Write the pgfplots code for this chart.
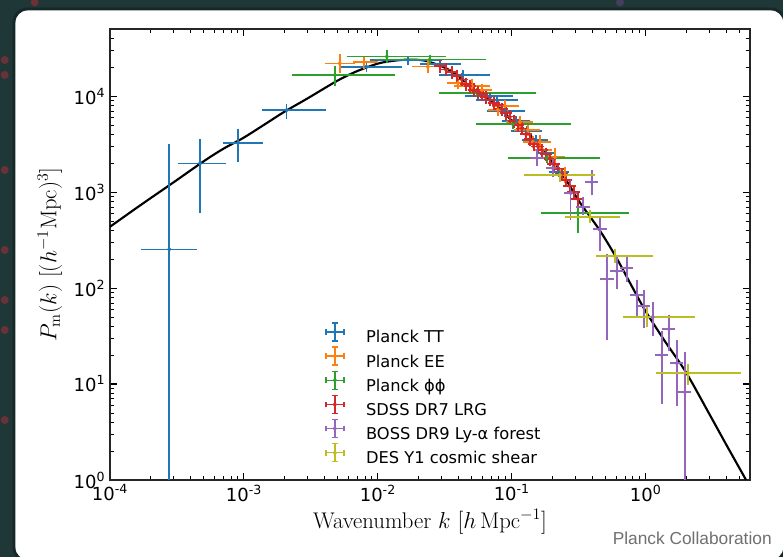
\documentclass[border=0pt]{standalone}
\usepackage{pgfplots}
\pgfplotsset{compat=1.18}
\usepackage{pgfplotstable}
\usepackage{fontspec}
\newfontfamily\djv{DejaVu Sans}
\newfontfamily\lib{Liberation Sans}
\definecolor{tabblue}{RGB}{31,119,180}
\definecolor{taborange}{RGB}{255,127,14}
\definecolor{tabgreen}{RGB}{44,160,44}
\definecolor{tabred}{RGB}{214,39,40}
\definecolor{tabpurple}{RGB}{148,103,189}
\definecolor{tabolive}{RGB}{188,189,34}
\definecolor{bgdark}{RGB}{31,55,55}
\definecolor{carddark}{RGB}{22,40,40}
\definecolor{credit}{RGB}{112,112,112}
\definecolor{blob}{RGB}{170,45,60}

\newcommand{\tl}[1]{10\textsuperscript{#1}}

% theory curve
\pgfplotstableread{
k P
1e-4 435
1.5e-4 650
2e-4 860
3e-4 1270
5e-4 2090
7e-4 2820
1e-3 3700
1.5e-3 5300
2e-3 6850
3e-3 9500
5e-3 14500
7e-3 18200
1e-2 21800
1.3e-2 23300
1.7e-2 24000
2.2e-2 23500
2.8e-2 21200
3.5e-2 18300
4.5e-2 13800
5.6e-2 10900
7e-2 8800
8.5e-2 7100
0.1 5550
0.13 4250
0.18 2480
0.25 1380
0.32 790
0.45 405
0.6 210
0.8 100
1.0 57
1.4 27.5
2.0 13.2
3.0 4.8
4.0 2.32
5.5 1.05
6.0 0.83
}\curvedata

\pgfplotstableread{
k P kl kh Pl Ph
2.77e-4 253 1.8e-4 4.19e-4 0.1 2940
4.7e-4 1990 3.4e-4 6.97e-4 660 3295
9.06e-4 3265 7.35e-4 1.31e-3 2207 4220
2.08e-3 7150 1.44e-3 3.86e-3 6190 7620
8.2e-3 20200 5.48e-3 0.01435 19500 21000
0.0168 23700 0.0092 0.0285 23000 24400
0.029 21540 0.0217 0.0395 21000 22100
0.043 16550 0.0305 0.065 16000 17100
0.0686 10000 0.047 0.0966 9700 10300
0.0773 9090 0.0577 0.105 8800 9400
0.0887 6980 0.0686 0.119 6780 7180
0.107 5495 0.0887 0.129 5330 5660
0.129 4318 0.105 0.159 4180 4460
0.151 3480 0.127 0.176 3370 3590
0.179 2548 0.162 0.202 2460 2640
0.224 1616 0.199 0.253 1560 1680
}\TTdata

\pgfplotstableread{
k P kl kh Pl Ph
5.2e-3 21920 4.24e-3 6.4e-3 18660 25180
7.87e-3 22600 6.86e-3 9.5e-3 20540 24280
0.0236 20280 0.0192 0.029 18660 22080
0.0395 13650 0.035 0.044 12800 14500
0.0502 12710 0.0395 0.065 11550 13990
0.0597 11550 0.053 0.067 10900 12200
0.0788 7145 0.070 0.088 6700 7600
0.0887 7870 0.0747 0.107 7320 8450
0.115 5360 0.0966 0.136 4990 5760
0.1316 4425 0.109 0.154 4120 4760
0.1436 3318 0.128 0.161 3100 3540
0.162 3318 0.141 0.186 3015 3650
0.170 2738 0.152 0.190 2560 2920
0.2095 2316 0.186 0.236 1958 2673
0.249 1503 0.220 0.281 1334 1695
}\EEdata

\pgfplotstableread{
k P kl kh Pl Ph
4.77e-3 16550 2.44e-3 0.0127 13650 19100
0.01167 25780 6.18e-3 0.0306 23990 27730
0.0244 23990 0.01035 0.0608 23000 25000
0.0548 10820 0.0301 0.1436 10500 11150
0.1016 5110 0.0568 0.262 4950 5280
0.1824 2260 0.0984 0.4305 2180 2340
0.311 609 0.1734 0.7096 402 826
}\PPdata

\pgfplotstableread{
k P
0.02903 20540
0.03218 18900
0.03566 17780
0.03887 16160
0.04235 14900
0.04536 13340
0.04860 12710
0.05205 11600
0.05576 11010
0.05972 10490
0.06397 9763
0.06852 9200
0.07339 8456
0.07861 8058
0.08420 7320
0.09019 6651
0.09663 6100
0.1035 5490
0.1109 4988
0.1188 4600
0.1272 4019
0.1363 3565
0.1460 3162
0.1563 2990
0.1675 2738
0.1794 2488
0.1922 2207
0.2058 1957
0.2205 1736
0.2361 1540
0.2529 1334
0.2709 1155
0.2902 1000
0.3108 846
}\SDSSdata

\pgfplotstableread{
k P Pl Ph
0.154 2260 2005 2610
0.202 1778 1540 2053
0.275 977 549 1271
0.339 698 619 826
0.395 1271 1000 1577
0.454 412 261 511
0.512 124 30.9 210
0.608 150 105 200
0.721 162 124 196
0.857 84.5 53.6 113
0.966 64.9 41.2 88.7
1.127 49.9 34.0 66.5
1.316 20.0 6.65 33.2
1.485 37.4 23.7 48.7
1.703 16.5 6.34 26.7
1.954 8.25 0.5 20.0
}\BOSSdata

\pgfplotstableread{
k P kl kh Pl Ph
0.228 1503 0.1315 0.395 1366 1616
0.382 553 0.266 0.608 511 604
0.587 215 0.454 1.071 196 237
1.017 50.2 0.710 2.20 42.2 59.0
2.06 13.0 1.27 4.86 10.5 15.0
}\DESdata

\pgfplotsset{
  eb/.style={
    only marks, mark=*, mark size=1.4pt, color=#1,
    mark options={solid, fill=#1, draw=#1},
    error bars/.cd,
      x dir=both, x explicit, y dir=both, y explicit,
      error bar style={line width=1.2pt, #1},
      error mark options={line width=1.2pt, mark size=2.5pt, #1},
    /pgfplots/.cd,
    legend image code/.code={
      \draw[#1, line width=1.2pt] (0pt,4.4pt) -- (13.5pt,4.4pt);
      \draw[#1, line width=1.2pt] (0pt,2.2pt) -- (0pt,6.6pt);
      \draw[#1, line width=1.2pt] (13.5pt,2.2pt) -- (13.5pt,6.6pt);
      \draw[#1, line width=1.2pt] (6.75pt,-2.35pt) -- (6.75pt,11.15pt);
      \draw[#1, line width=1.2pt] (4.55pt,-2.35pt) -- (8.95pt,-2.35pt);
      \draw[#1, line width=1.2pt] (4.55pt,11.15pt) -- (8.95pt,11.15pt);
      \fill[#1] (6.75pt,4.4pt) circle (1.4pt);
      \path (0pt,-2.35pt) (30pt,11.15pt);
    },
  },
}

\begin{document}
\begin{tikzpicture}
\fill[bgdark] (0,0) rectangle (587.25pt,417.75pt);
\begin{scope}
\clip (0,0) rectangle (587.25pt,417.75pt);
\foreach \yy in {372.75,361.5,290.25,230.25,192.75,170.25,102.75}{
  \fill[blob, opacity=0.55] (3.5pt,\yy pt) circle (3pt);
}
\fill[blob, opacity=0.55] (26pt,416pt) circle (3pt);
\fill[tabpurple!70!black, opacity=0.5] (465pt,416pt) circle (3pt);
\filldraw[fill=white, draw=carddark, line width=2.2pt, rounded corners=10pt]
  (10.5pt,-3pt) rectangle (588.5pt,411pt);
\end{scope}

\begin{axis}[
  at={(82.5pt,57.75pt)}, anchor=south west,
  scale only axis, width=480pt, height=338.25pt,
  xmode=log, ymode=log,
  xmin=1e-4, xmax=6, ymin=1, ymax=5e4,
  xtick={1e-4,1e-3,1e-2,1e-1,1},
  xticklabels={\tl{-4},\tl{-3},\tl{-2},\tl{-1},\tl{0}},
  ytick={1,10,100,1000,10000},
  yticklabels={\tl{0},\tl{1},\tl{2},\tl{3},\tl{4}},
  minor xtick={2e-4,3e-4,4e-4,5e-4,6e-4,7e-4,8e-4,9e-4,2e-3,3e-3,4e-3,5e-3,6e-3,7e-3,8e-3,9e-3,0.02,0.03,0.04,0.05,0.06,0.07,0.08,0.09,0.2,0.3,0.4,0.5,0.6,0.7,0.8,0.9,2,3,4,5,6},
  minor ytick={2,3,4,5,6,7,8,9,20,30,40,50,60,70,80,90,200,300,400,500,600,700,800,900,2000,3000,4000,5000,6000,7000,8000,9000,20000,30000,40000,50000},
  tick align=inside, xtick pos=both, ytick pos=both,
  major tick length=5pt, minor tick length=3pt,
  tick style={black, line width=0.8pt},
  minor tick style={line width=0.6pt},
  axis line style={line width=1.1pt, black!85},
  ticklabel style={font=\djv\fontsize{13.5}{15}\selectfont},
  xlabel={Wavenumber $k$ $[h\,\mathrm{Mpc}^{-1}]$},
  ylabel={$P_{\mathrm{m}}(k)\ [(h^{-1}\mathrm{Mpc})^3]$},
  label style={font=\fontsize{17}{20}\selectfont},
  xlabel style={at={(axis description cs:0.5,-0.093)}, anchor=center},
  ylabel style={at={(axis description cs:-0.094,0.5)}, anchor=center},
  legend cell align=left,
  legend style={at={(0.336,0.350)}, anchor=north west, draw=none, fill=none,
    inner sep=0pt, outer sep=0pt, row sep=1pt,
    font=\djv\fontsize{12.2}{14}\selectfont,
    nodes={inner sep=0pt}},
]
\addplot[black, line width=1.6pt, smooth, forget plot] table[x=k,y=P]{\curvedata};

\addplot[eb=tabblue] table[x=k, y=P,
  x error plus expr=\thisrow{kh}-\thisrow{k}, x error minus expr=\thisrow{k}-\thisrow{kl},
  y error plus expr=\thisrow{Ph}-\thisrow{P}, y error minus expr=\thisrow{P}-\thisrow{Pl}]{\TTdata};
\addlegendentry{Planck TT}

\addplot[eb=taborange] table[x=k, y=P,
  x error plus expr=\thisrow{kh}-\thisrow{k}, x error minus expr=\thisrow{k}-\thisrow{kl},
  y error plus expr=\thisrow{Ph}-\thisrow{P}, y error minus expr=\thisrow{P}-\thisrow{Pl}]{\EEdata};
\addlegendentry{Planck EE}

\addplot[eb=tabgreen] table[x=k, y=P,
  x error plus expr=\thisrow{kh}-\thisrow{k}, x error minus expr=\thisrow{k}-\thisrow{kl},
  y error plus expr=\thisrow{Ph}-\thisrow{P}, y error minus expr=\thisrow{P}-\thisrow{Pl}]{\PPdata};
\addlegendentry{Planck ϕϕ}

\addplot[eb=tabred] table[x=k, y=P,
  x error expr=0.05*\thisrow{k}, y error expr=0.08*\thisrow{P}]{\SDSSdata};
\addlegendentry{SDSS DR7 LRG}

\addplot[eb=tabpurple] table[x=k, y=P,
  x error expr=0.06*\thisrow{k},
  y error plus expr=\thisrow{Ph}-\thisrow{P}, y error minus expr=\thisrow{P}-\thisrow{Pl}]{\BOSSdata};
\addlegendentry{BOSS DR9 Ly-α forest}

\addplot[eb=tabolive] table[x=k, y=P,
  x error plus expr=\thisrow{kh}-\thisrow{k}, x error minus expr=\thisrow{k}-\thisrow{kl},
  y error plus expr=\thisrow{Ph}-\thisrow{P}, y error minus expr=\thisrow{P}-\thisrow{Pl}]{\DESdata};
\addlegendentry{DES Y1 cosmic shear}
\end{axis}

\node[anchor=base east, text=credit, font=\lib\fontsize{13}{15}\selectfont, inner sep=0pt]
  at (579pt,9pt) {Planck Collaboration};
\end{tikzpicture}
\end{document}
